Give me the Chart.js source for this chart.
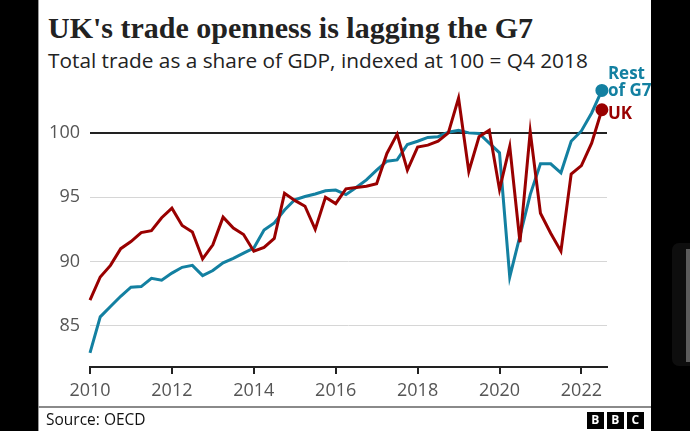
<!DOCTYPE html>
<html>
<head>
<meta charset="utf-8">
<script src="https://cdn.jsdelivr.net/npm/chart.js@4.4.0/dist/chart.umd.min.js"></script>
<style>
  html, body { margin: 0; padding: 0; background: #000; }
  #page { position: relative; width: 690px; height: 431px; overflow: hidden; background: #000; }
  #panel { position: absolute; left: 38px; top: 0; width: 613px; height: 431px; background: #fff;
           border-left: 1px solid #999; box-sizing: border-box; }
  #title { position: absolute; left: 48px; top: 12.5px; font-family: "Liberation Serif", serif; font-weight: 700;
           font-size: 30px; line-height: 30px; color: #222; white-space: nowrap; }
  #subtitle { position: absolute; left: 48px; top: 50px; font-family: "Open Sans", sans-serif;
              font-size: 20.8px; line-height: 20.8px; color: #222; white-space: nowrap; }
  #rule { position: absolute; left: 38px; top: 406px; width: 613px; height: 1.5px; background: #8a8a8a; }
  #source { position: absolute; left: 46px; top: 411px; font-family: "Open Sans", sans-serif;
            font-size: 15.5px; line-height: 16px; color: #111; white-space: nowrap; }
  .bbc { position: absolute; top: 412px; width: 16.5px; height: 16.5px; background: #000; color: #fff;
         font-family: "Open Sans", sans-serif; font-weight: 700; font-size: 12px; line-height: 16.5px; text-align: center; }
  #side { position: absolute; left: 672px; top: 243px; width: 30px; height: 123px; background: #0e0e0e; border-radius: 7px; }
  #strip { position: absolute; left: 686px; top: 249px; width: 6px; height: 113px; background: #5c5c5c; }
  #wrap { position: absolute; left: 0; top: 0; width: 690px; height: 431px; }
</style>
</head>
<body>
<div id="page">
  <div id="panel"></div>
  <div id="side"></div>
  <div id="strip"></div>
  <div id="title">UK's trade openness is lagging the G7</div>
  <div id="subtitle">Total trade as a share of GDP, indexed at 100 = Q4 2018</div>
  <div id="wrap"><canvas id="trade_chart" width="690" height="431"></canvas></div>
  <div id="rule"></div>
  <div id="source">Source: OECD</div>
  <div class="bbc" style="left:587px">B</div>
  <div class="bbc" style="left:607px">B</div>
  <div class="bbc" style="left:627px">C</div>
</div>
<script>
// quarterly, Q1 2010 to Q3 2022
const quarters = [
  '2010 Q1','2010 Q2','2010 Q3','2010 Q4','2011 Q1','2011 Q2','2011 Q3','2011 Q4',
  '2012 Q1','2012 Q2','2012 Q3','2012 Q4','2013 Q1','2013 Q2','2013 Q3','2013 Q4',
  '2014 Q1','2014 Q2','2014 Q3','2014 Q4','2015 Q1','2015 Q2','2015 Q3','2015 Q4',
  '2016 Q1','2016 Q2','2016 Q3','2016 Q4','2017 Q1','2017 Q2','2017 Q3','2017 Q4',
  '2018 Q1','2018 Q2','2018 Q3','2018 Q4','2019 Q1','2019 Q2','2019 Q3','2019 Q4',
  '2020 Q1','2020 Q2','2020 Q3','2020 Q4','2021 Q1','2021 Q2','2021 Q3','2021 Q4',
  '2022 Q1','2022 Q2','2022 Q3'
];

const ukValues = [
  87.0, 88.8, 89.7, 91.0, 91.55, 92.25, 92.4, 93.4,
  94.15, 92.8, 92.3, 90.2, 91.3, 93.45, 92.6, 92.1,
  90.8, 91.1, 91.8, 95.3, 94.75, 94.3, 92.5, 95.0,
  94.5, 95.65, 95.75, 95.85, 96.05, 98.4, 99.9, 97.1,
  98.9, 99.05, 99.35, 100.0, 102.7, 97.0, 99.7, 100.2,
  95.6, 98.95, 91.5, 100.1, 93.75, 92.2, 90.8, 96.8,
  97.45, 99.2, 101.8
];

const g7Values = [
  82.9, 85.7, 86.5, 87.3, 88.0, 88.05, 88.7, 88.55,
  89.1, 89.55, 89.7, 88.9, 89.3, 89.9, 90.25, 90.65,
  91.05, 92.45, 93.0, 94.0, 94.8, 95.05, 95.25, 95.5,
  95.55, 95.2, 95.75, 96.35, 97.1, 97.8, 97.9, 99.1,
  99.35, 99.65, 99.7, 100.05, 100.2, 100.0, 99.95, 99.2,
  98.45, 88.8, 92.0, 95.2, 97.6, 97.6, 96.9, 99.35,
  100.15, 101.55, 103.3
];

const xTicks = [2010, 2012, 2014, 2016, 2018, 2020, 2022];
const yTicks = [85, 90, 95, 100];

const ukColor = '#990000';
const g7Color = '#1380a1';

function quarterToYear(q) {
  var parts = q.split(' Q');
  return parseInt(parts[0]) + (parseInt(parts[1]) - 1) / 4;
}

function toPoints(values) {
  var result = [];
  for (let i = 0; i < values.length; i++) {
    result.push({ x: quarterToYear(quarters[i]), y: values[i] });
  }
  return result;
}

function lastDot(ctx) {
  return ctx.dataIndex === ctx.dataset.data.length - 1 ? 5 : 0;
}

// names written next to the last point of each line
const endLabels = {
  id: 'endLabels',
  afterDatasetsDraw(chart) {
    const c = chart.ctx;
    c.save();
    c.font = 'bold 17px "Open Sans"';
    c.textAlign = 'left';
    c.textBaseline = 'alphabetic';
    chart.data.datasets.forEach(function (ds, i) {
      const pts = chart.getDatasetMeta(i).data;
      const p = pts[pts.length - 1];
      c.fillStyle = ds.borderColor;
      if (ds.label === 'UK') {
        c.fillText('UK', p.x + 6, p.y + 9);
      } else {
        c.fillText('Rest', p.x + 6, p.y - 11);
        c.fillText('of G7', p.x + 6, p.y + 6);
      }
    });
    c.restore();
  }
};

const ctx = document.getElementById('trade_chart');
const tradeChart = new Chart(ctx, {
  type: 'line',
  data: {
    datasets: [
      {
        label: 'UK',
        data: toPoints(ukValues),
        borderColor: ukColor,
        backgroundColor: ukColor,
        borderWidth: 3,
        pointRadius: lastDot,
        pointHoverRadius: 0,
        tension: 0,
        clip: false
      },
      {
        label: 'Rest of G7',
        data: toPoints(g7Values),
        borderColor: g7Color,
        backgroundColor: g7Color,
        borderWidth: 3,
        pointRadius: lastDot,
        pointHoverRadius: 0,
        tension: 0,
        clip: false
      }
    ]
  },
  options: {
    responsive: false,
    animation: false,
    layout: { padding: { left: 0, right: 83, top: 84, bottom: 20 } },
    plugins: {
      legend: { display: false },
      tooltip: { enabled: false }
    },
    scales: {
      x: {
        type: 'linear',
        min: 2010,
        max: 2022.625,
        afterBuildTicks: function (scale) {
          scale.ticks = xTicks.map(function (v) { return { value: v }; });
        },
        afterFit: function (scale) { scale.height = 44; },
        border: { display: true, color: '#222', width: 2 },
        grid: { drawOnChartArea: false, drawTicks: true, tickLength: 7, color: '#222', lineWidth: 2 },
        ticks: {
          color: '#555',
          font: { family: '"Open Sans"', size: 18 },
          padding: 6,
          maxRotation: 0,
          callback: function (v) { return String(v); }
        }
      },
      y: {
        min: 81.8,
        max: 103.8,
        afterBuildTicks: function (scale) {
          scale.ticks = yTicks.map(function (v) { return { value: v }; });
        },
        afterFit: function (scale) { scale.width = 90; },
        border: { display: false },
        grid: {
          drawTicks: false,
          color: function (c) { return c.tick && c.tick.value === 100 ? '#222' : '#d6d6d6'; },
          lineWidth: function (c) { return c.tick && c.tick.value === 100 ? 2 : 1; }
        },
        ticks: {
          color: '#555',
          font: { family: '"Open Sans"', size: 18 },
          padding: 10,
          callback: function (v) { return String(v); }
        }
      }
    }
  },
  plugins: [endLabels]
});
</script>
</body>
</html>
